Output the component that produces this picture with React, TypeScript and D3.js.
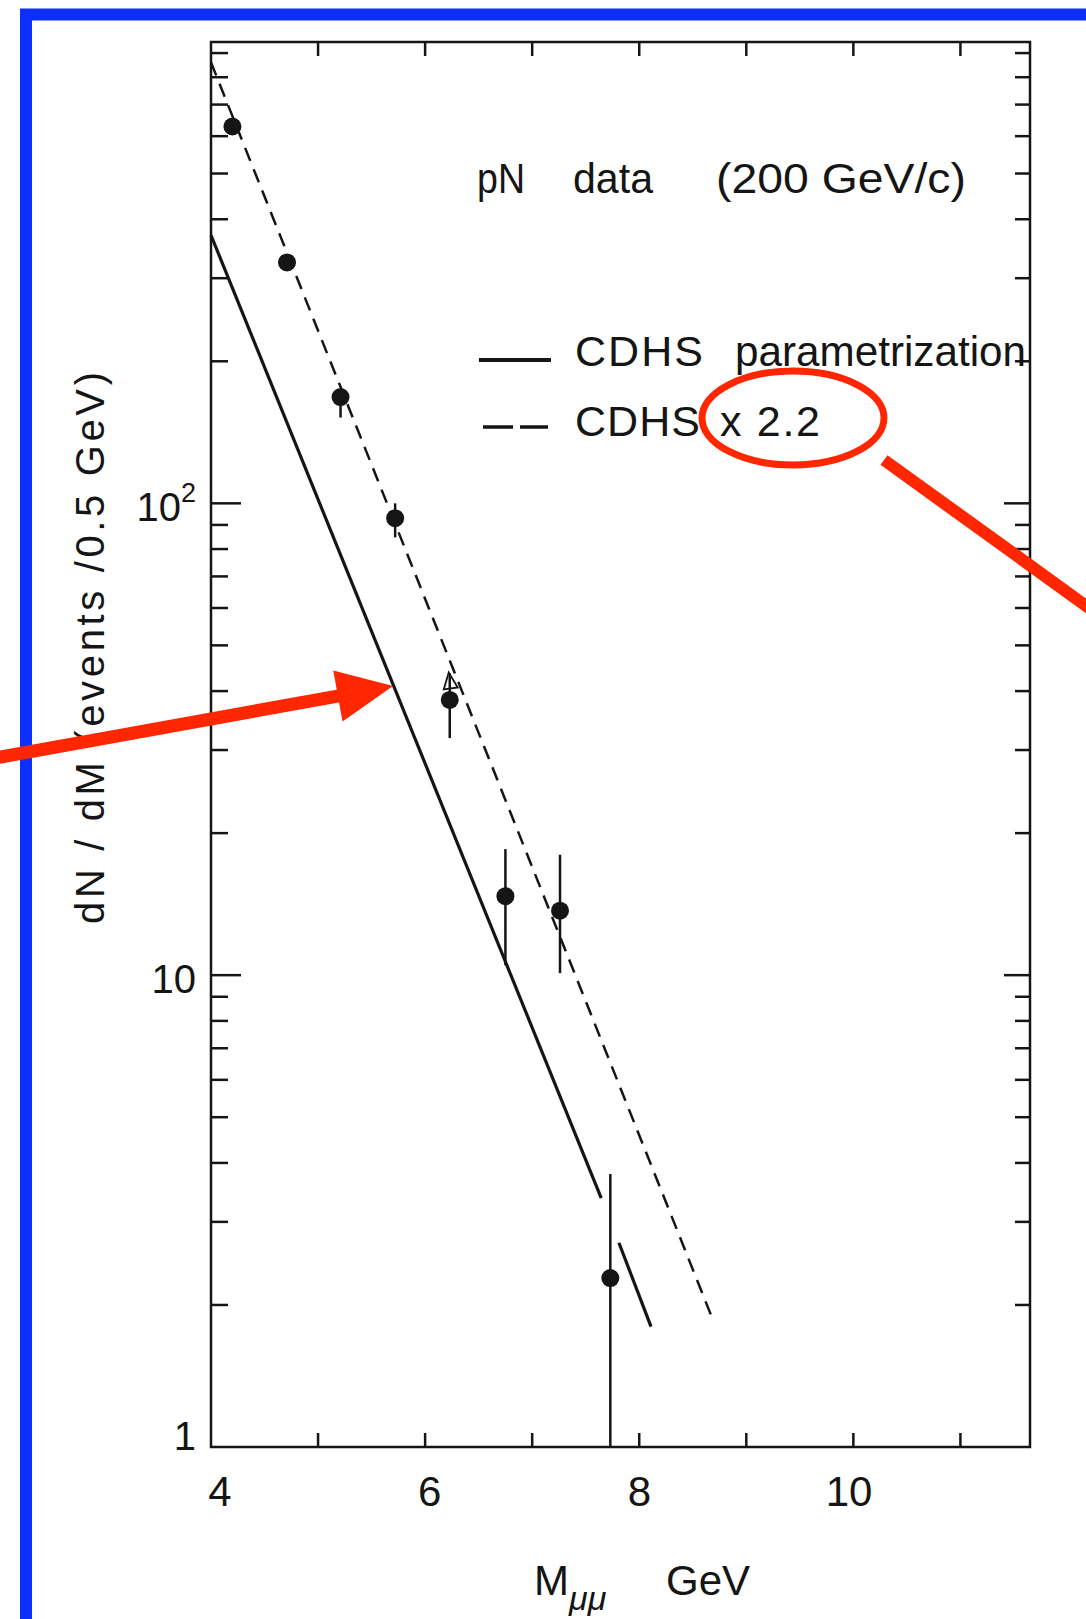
import React from 'react';
import * as d3 from 'd3';

// pN data points (200 GeV/c), dN/dM in events / 0.5 GeV
const massBins = [4.2, 4.71, 5.21, 5.72, 6.23, 6.75, 7.26, 7.73];
const counts = [629, 324, 168, 93, 38.3, 14.7, 13.7, 2.28];
const countsHigh = [629, 324, 175, 100, 43.6, 18.5, 18.0, 3.79];
const countsLow = [629, 324, 152, 84.7, 31.8, 10.5, 10.1, 1];

// CDHS parametrization (solid, drawn in two pieces) and CDHS x 2.2 (dashed)
const cdhsMass = [4, 7.645];
const cdhsValue = [370, 3.37];
const cdhsTailMass = [7.81, 8.11];
const cdhsTailValue = [2.71, 1.8];
const scaledMass = [4, 8.68];
const scaledValue = [860, 1.88];

const xTicks = [5, 6, 7, 8, 9, 10, 11];
const xTickLabels = [4, 6, 8, 10];
const yMajor = [10, 100];
const yMinor = [2, 3, 4, 5, 6, 7, 8, 9, 20, 30, 40, 50, 60, 70, 80, 90, 200, 300, 400, 500, 600, 700, 800, 900];
const yTickLabels = [1, 10, 100];

// point the red arrow is aimed at (on the solid curve)
const arrowMass = 5.7;
const arrowValue = 41;

const W = 1086;
const H = 1619;
const left = 211;
const right = 1030;
const top = 42;
const bottom = 1447;

const ink = '#151515';
const red = '#ff2600';
const blue = '#0b2fff';
const font = '"Liberation Sans", Arial, sans-serif';

const App = () => {
  const x = d3.scaleLinear().domain([4, 11.65]).range([left, right]);
  const y = d3.scaleLog().domain([1, 950]).range([bottom, top]);
  // the printed numbers sit a little off the ticks in the scan
  const xLab = d3.scaleLinear().domain([4, 10]).range([220, 849]);

  const pairs = (ms: number[], vs: number[]) => ms.map((m, i) => [m, vs[i]] as [number, number]);
  const line = d3.line<[number, number]>().x(d => x(d[0])).y(d => y(d[1]));

  // red arrow geometry
  const tip = [x(arrowMass), y(arrowValue)];
  const tail = [-10, 759];
  const len = Math.hypot(tip[0] - tail[0], tip[1] - tail[1]);
  const ux = (tip[0] - tail[0]) / len;
  const uy = (tip[1] - tail[1]) / len;
  const headLen = 56;
  const headHalf = 26;
  const bx = tip[0] - ux * headLen;
  const by = tip[1] - uy * headLen;
  const head = [
    [tip[0], tip[1]],
    [bx - uy * headHalf, by + ux * headHalf],
    [bx + uy * headHalf, by - ux * headHalf],
  ].map(p => p.join(',')).join(' ');

  const p5x = x(massBins[4]);
  const p5y = y(countsHigh[4]);

  return (
    <svg width={W} height={H} style={{ position: 'absolute', left: 0, top: 0, background: '#fff' }}
      fontFamily={font}>
      <rect x={0} y={0} width={W} height={H} fill="#fff" />

      {/* blue outer frame */}
      <path d={`M26,${H} V14.5 H${W}`} fill="none" stroke={blue} strokeWidth={12} />

      {/* plot box */}
      <rect x={left} y={top} width={right - left} height={bottom - top} fill="none" stroke={ink} strokeWidth={2.5} />

      {/* x ticks, bottom and top */}
      {xTicks.map(t => (
        <g key={`xt${t}`} stroke={ink} strokeWidth={2.5}>
          <line x1={x(t)} x2={x(t)} y1={bottom} y2={bottom - 14} />
          <line x1={x(t)} x2={x(t)} y1={top} y2={top + 14} />
        </g>
      ))}
      {xTickLabels.map(t => (
        <text key={`xl${t}`} x={xLab(t)} y={1506} fontSize={42} textAnchor="middle" fill={ink}>{t}</text>
      ))}

      {/* y ticks, left and right */}
      {yMajor.map(t => (
        <g key={`ym${t}`} stroke={ink} strokeWidth={2.5}>
          <line x1={left} x2={left + 30} y1={y(t)} y2={y(t)} />
          <line x1={right} x2={right - 26} y1={y(t)} y2={y(t)} />
        </g>
      ))}
      {yMinor.map(t => (
        <g key={`yn${t}`} stroke={ink} strokeWidth={2.5}>
          <line x1={left} x2={left + 17} y1={y(t)} y2={y(t)} />
          <line x1={right} x2={right - 15} y1={y(t)} y2={y(t)} />
        </g>
      ))}
      {yTickLabels.map(t => (
        <text key={`yl${t}`} x={196} y={y(t) + (t === 1 ? 3 : 18)} fontSize={40} textAnchor="end" fill={ink}>
          {t === 100 ? <>10<tspan dy={-19} fontSize={27}>2</tspan></> : t}
        </text>
      ))}

      {/* axis titles */}
      <text transform="translate(104,648) rotate(-90)" fontSize={40} textAnchor="middle" fill={ink}
        textLength={552} lengthAdjust="spacing">dN / dM  (events /0.5 GeV)</text>
      <text x={534} y={1595} fontSize={42} fill={ink}>
        M<tspan dy={15} fontSize={34} fontStyle="italic">μμ</tspan>
        <tspan x={666} dy={-15}>GeV</tspan>
      </text>

      {/* curves */}
      <path d={line(pairs(cdhsMass, cdhsValue)) ?? ''} fill="none" stroke={ink} strokeWidth={3.2} />
      <path d={line(pairs(cdhsTailMass, cdhsTailValue)) ?? ''} fill="none" stroke={ink} strokeWidth={3.2} />
      <path d={line(pairs(scaledMass, scaledValue)) ?? ''} fill="none" stroke={ink} strokeWidth={2.5}
        strokeDasharray="14 9" />

      {/* data with error bars */}
      {massBins.map((m, i) => (
        <g key={`pt${i}`}>
          <line x1={x(m)} x2={x(m)} y1={y(countsLow[i])} y2={y(countsHigh[i])} stroke={ink} strokeWidth={2.5} />
          <circle cx={x(m)} cy={y(counts[i])} r={9} fill={ink} />
        </g>
      ))}
      <path d={`M${p5x - 1},${p5y - 1} L${p5x + 8},${p5y + 14} L${p5x - 6},${p5y + 16} Z`} fill="none"
        stroke={ink} strokeWidth={1.8} />

      {/* legend */}
      <g fill={ink} fontSize={43}>
        <text x={477} y={193} textLength={48} lengthAdjust="spacingAndGlyphs">pN</text>
        <text x={573} y={193} textLength={80} lengthAdjust="spacingAndGlyphs">data</text>
        <text x={716} y={193} textLength={250} lengthAdjust="spacingAndGlyphs">(200 GeV/c)</text>

        <line x1={479} x2={551} y1={360} y2={360} stroke={ink} strokeWidth={4} />
        <text x={575} y={366} textLength={128} lengthAdjust="spacing">CDHS</text>
        <text x={735} y={366} textLength={291} lengthAdjust="spacingAndGlyphs">parametrization</text>

        <line x1={483} x2={513} y1={427} y2={427} stroke={ink} strokeWidth={3.5} />
        <line x1={520} x2={548} y1={427} y2={427} stroke={ink} strokeWidth={3.5} />
        <text x={575} y={436} textLength={125} lengthAdjust="spacing">CDHS</text>
        <text x={720} y={436} textLength={100} lengthAdjust="spacing">x 2.2</text>
      </g>

      {/* red annotations */}
      <ellipse cx={793} cy={418} rx={91} ry={47} fill="none" stroke={red} strokeWidth={7} />
      <line x1={884} y1={460} x2={1096} y2={613} stroke={red} strokeWidth={12} />
      <line x1={tail[0]} y1={tail[1]} x2={bx + ux * 4} y2={by + uy * 4} stroke={red} strokeWidth={13} />
      <polygon points={head} fill={red} />
    </svg>
  );
};

export default App;
